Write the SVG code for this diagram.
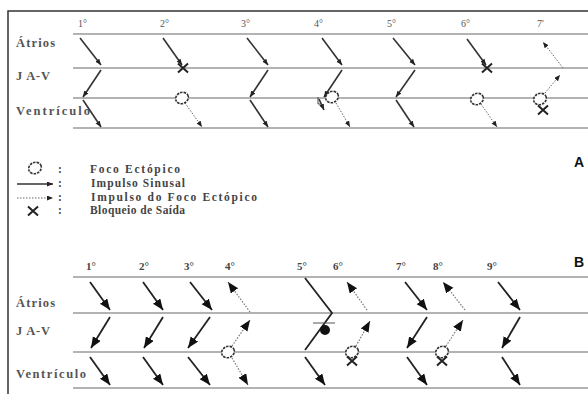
<svg xmlns="http://www.w3.org/2000/svg" width="588" height="394" viewBox="0 0 588 394">
<style>
.bg{fill:#fff}
.frame{stroke:#333;stroke-width:1.5;fill:none}
.tier{stroke:#9a9a9a;stroke-width:1.5;fill:none}
.lbl{font-family:"Liberation Serif","Times New Roman",serif;font-weight:bold;fill:#555;font-size:12.5px}
.num{font-family:"Liberation Serif","Times New Roman",serif;fill:#555;font-size:10px}
.numb{font-family:"Liberation Serif","Times New Roman",serif;font-weight:bold;fill:#444;font-size:11px}
.leg{font-family:"Liberation Serif","Times New Roman",serif;font-weight:bold;fill:#444;font-size:11.5px}
.big{font-family:"Liberation Sans",Arial,sans-serif;font-weight:bold;fill:#111;font-size:14px}
.sa{stroke:#333;stroke-width:1.6;fill:none;marker-end:url(#ha)}
.da{stroke:#666;stroke-width:1;stroke-dasharray:1.5 1.5;fill:none;marker-end:url(#ha)}
.sb{stroke:#222;stroke-width:1.8;fill:none;marker-end:url(#hb)}
.db{stroke:#777;stroke-width:1.2;stroke-dasharray:1.5 1.5;fill:none;marker-end:url(#hb)}
.foc{stroke:#333;stroke-width:1.6;stroke-dasharray:2.5 1;fill:#fff}
.x{stroke:#222;stroke-width:2;fill:none}
</style>
<defs>
<marker id="ha" markerUnits="userSpaceOnUse" markerWidth="7" markerHeight="6" refX="6" refY="2.5" orient="auto"><path d="M0,0 L6,2.5 L0,5 z" fill="#222"/></marker>
<marker id="hb" markerUnits="userSpaceOnUse" markerWidth="12" markerHeight="10" refX="11" refY="4.5" orient="auto"><path d="M0,0 L11,4.5 L0,9 z" fill="#111"/></marker>
<g id="focus"><ellipse cx="0" cy="0" rx="6.5" ry="5.5" transform="rotate(-25)" class="foc"/></g>
<g id="xmark"><path d="M-5,-4.5 L5,4.5 M5,-4.5 L-5,4.5" class="x"/></g>
</defs>
<rect class="bg" x="0" y="0" width="588" height="394"/>
<g id="frame"><path class="frame" d="M8,394 V11 H588"/></g>

<g id="tiers">
<path class="tier" d="M73,34 H588 M73,68 H588 M73,98 H588 M73,128 H588"/>
<path class="tier" d="M73,277 H588 M73,313 H588 M73,352 H588 M73,388 H588"/>
</g>

<g id="labels-A">
<text class="lbl" x="16" y="47" textLength="39" lengthAdjust="spacing">Átrios</text>
<text class="lbl" x="16" y="80" textLength="34" lengthAdjust="spacing">J A-V</text>
<text class="lbl" x="16" y="115" textLength="74" lengthAdjust="spacing">Ventrículo</text>
<text class="num" x="78" y="27">1°</text>
<text class="num" x="160" y="27">2°</text>
<text class="num" x="241" y="27">3°</text>
<text class="num" x="314" y="27">4°</text>
<text class="num" x="387" y="27">5°</text>
<text class="num" x="461" y="27">6°</text>
<text class="num" x="537" y="27">7'</text>
<text class="big" x="574" y="167">A</text>
</g>

<g id="connectors">
<g id="A-c1"><path class="sa" d="M80,38 L101,65"/><path class="sa" d="M101,70 L83,97"/><path class="sa" d="M83,100 L101,127"/></g>
<g id="A-c2"><path class="sa" d="M163,38 L182,65"/><use href="#xmark" x="183" y="68"/><path class="da" d="M185,103 L202,127"/><use href="#focus" x="182" y="98"/></g>
<g id="A-c3"><path class="sa" d="M247,38 L268,65"/><path class="sa" d="M268,70 L250,97"/><path class="sa" d="M250,100 L268,127"/></g>
<g id="A-c4"><path class="sa" d="M322,38 L342,65"/><path class="sa" d="M342,70 L324,97"/><path class="da" d="M336,103 L350,127"/><use href="#focus" x="332" y="97"/><path class="sa" d="M319,99 L324,110"/><path d="M318,97 L318,104 L322,104" stroke="#444" stroke-width="1" fill="none"/></g>
<g id="A-c5"><path class="sa" d="M393,38 L415,65"/><path class="sa" d="M415,70 L396,97"/><path class="sa" d="M396,100 L414,127"/></g>
<g id="A-c6"><path class="sa" d="M467,39 L486,65"/><use href="#xmark" x="487" y="68"/><path class="da" d="M481,104 L497,127"/><use href="#focus" x="477" y="99"/></g>
<g id="A-c7"><path class="da" d="M545,93 L560,75"/><path class="da" d="M563,68 L543,42"/><use href="#focus" x="540" y="99"/><use href="#xmark" x="543" y="110"/></g>

<g id="B-c1"><path class="sb" d="M90,282 L110,310"/><path class="sb" d="M110,317 L91,348"/><path class="sb" d="M90,357 L110,385"/></g>
<g id="B-c2"><path class="sb" d="M143,282 L163,310"/><path class="sb" d="M163,317 L144,348"/><path class="sb" d="M143,357 L163,385"/></g>
<g id="B-c3"><path class="sb" d="M190,282 L212,310"/><path class="sb" d="M210,317 L188,348"/><path class="sb" d="M188,357 L210,385"/></g>
<g id="B-c4"><path class="db" d="M250,312 L228,282"/><path class="db" d="M232,346 L250,320"/><path class="db" d="M232,358 L248,385"/><use href="#focus" x="228" y="352"/></g>
<g id="B-c5"><path d="M305,278 L332,313 L305,350" stroke="#222" stroke-width="1.8" fill="none"/><path d="M313,323 H335" stroke="#555" stroke-width="1"/><circle cx="325" cy="330" r="5" fill="#111"/><path class="sb" d="M305,357 L325,385"/></g>
<g id="B-c6"><path class="db" d="M367,310 L347,282"/><path class="db" d="M356,346 L370,321"/><use href="#focus" x="352" y="352"/><use href="#xmark" x="352" y="361"/></g>
<g id="B-c7"><path class="sb" d="M405,282 L427,310"/><path class="sb" d="M427,317 L407,348"/><path class="sb" d="M407,357 L427,385"/></g>
<g id="B-c8"><path class="db" d="M465,310 L443,282"/><path class="db" d="M446,346 L463,320"/><use href="#focus" x="442" y="352"/><use href="#xmark" x="442" y="361"/></g>
<g id="B-c9"><path class="sb" d="M498,282 L520,310"/><path class="sb" d="M520,317 L502,348"/><path class="sb" d="M502,357 L520,385"/></g>
</g>

<g id="legend">
<use href="#focus" x="35" y="168"/>
<path class="sa" d="M17,184 L53,184"/>
<path class="da" d="M17,198 L53,198"/>
<use href="#xmark" x="33" y="211"/>
<text class="leg" x="58" y="173">:</text>
<text class="leg" x="58" y="187">:</text>
<text class="leg" x="58" y="201">:</text>
<text class="leg" x="58" y="214">:</text>
<text class="leg" x="90" y="173" textLength="90" lengthAdjust="spacing">Foco Ectópico</text>
<text class="leg" x="91" y="187" textLength="94" lengthAdjust="spacing">Impulso Sinusal</text>
<text class="leg" x="91" y="201" textLength="166" lengthAdjust="spacing">Impulso do Foco Ectópico</text>
<text class="leg" x="90" y="214" textLength="95" lengthAdjust="spacing">Bloqueio de Saída</text>
</g>

<g id="labels-B">
<text class="lbl" x="16" y="307" textLength="39" lengthAdjust="spacing">Átrios</text>
<text class="lbl" x="16" y="335" textLength="34" lengthAdjust="spacing">J A-V</text>
<text class="lbl" x="16" y="378" textLength="70" lengthAdjust="spacing">Ventrículo</text>
<text class="numb" x="86" y="270">1°</text>
<text class="numb" x="139" y="270">2°</text>
<text class="numb" x="184" y="270">3°</text>
<text class="numb" x="225" y="270">4°</text>
<text class="numb" x="297" y="270">5°</text>
<text class="numb" x="333" y="270">6°</text>
<text class="numb" x="396" y="270">7°</text>
<text class="numb" x="433" y="270">8°</text>
<text class="numb" x="487" y="270">9°</text>
<text class="big" x="574" y="267">B</text>
</g>
</svg>
